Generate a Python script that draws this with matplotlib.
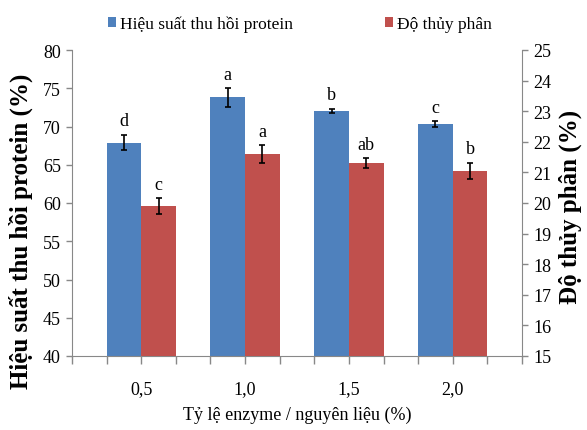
import matplotlib
matplotlib.use("Agg")
import matplotlib.pyplot as plt
import numpy as np
from matplotlib.patches import Patch
from matplotlib.ticker import FixedLocator

plt.rcParams['font.family'] = ['Liberation Serif', 'DejaVu Serif']

# Enzyme-to-substrate ratio (%)
ratios = ['0,5', '1,0', '1,5', '2,0']

# Protein recovery yield (%) — left axis
recovery = [67.9, 73.8, 72.0, 70.3]
recovery_err = [1.0, 1.2, 0.3, 0.4]
recovery_letters = ['d', 'a', 'b', 'c']

# Degree of hydrolysis (%) — right axis
hydrolysis = [19.9, 21.6, 21.3, 21.05]
hydrolysis_err = [0.25, 0.28, 0.16, 0.26]
hydrolysis_letters = ['c', 'a', 'ab', 'b']

BLUE = '#4F81BD'
RED = '#C0504D'
SPINE = '#888888'
FS = 13

fig = plt.figure(figsize=(5.87, 4.31), dpi=100)
ax = fig.add_axes([72 / 587, 74 / 431, 450 / 587, 306 / 431])
ax2 = ax.twinx()

x = np.arange(len(ratios))
w = 1 / 3
err_style = dict(elinewidth=1.2, capthick=1.2, ecolor='black')

ax.bar(x - w / 2, recovery, w, color=BLUE, yerr=recovery_err,
       capsize=2.5, error_kw=err_style)
ax2.bar(x + w / 2, hydrolysis, w, color=RED, yerr=hydrolysis_err,
        capsize=2.5, error_kw=err_style)

for xi, v, e, t in zip(x, recovery, recovery_err, recovery_letters):
    ax.annotate(t, (xi - w / 2, v + e), xytext=(0, 4), textcoords='offset points',
                ha='center', va='bottom', fontsize=FS)
for xi, v, e, t in zip(x, hydrolysis, hydrolysis_err, hydrolysis_letters):
    ax2.annotate(t, (xi + w / 2, v + e), xytext=(0, 4), textcoords='offset points',
                 ha='center', va='bottom', fontsize=FS)

ax.set_xlim(-2 / 3, len(ratios) - 1 + 2 / 3)
ax.set_ylim(40, 80)
ax2.set_ylim(15, 25)
ax.set_yticks(np.arange(40, 81, 5))
ax2.set_yticks(np.arange(15, 26, 1))
ax.set_xticks(x)
ax.set_xticklabels(ratios)
ax.xaxis.set_minor_locator(FixedLocator([k / 3 for k in range(-2, 12) if k % 3 != 0]))

ax.tick_params(axis='x', which='both', length=6, width=1, color=SPINE,
               labelsize=FS, pad=11)
ax.tick_params(axis='y', length=4, width=1, color=SPINE, labelsize=FS, pad=4)
ax2.tick_params(axis='y', length=4, width=1, color=SPINE, labelsize=FS, pad=4)

for a in (ax, ax2):
    a.spines['top'].set_visible(False)
    for s in a.spines.values():
        s.set_color(SPINE)
ax.spines['right'].set_visible(False)
ax2.spines['left'].set_visible(False)
ax2.spines['bottom'].set_visible(False)

ax.set_ylabel('Hiệu suất thu hồi protein (%)', fontsize=18, fontweight='bold')
ax.yaxis.set_label_coords(-0.087, 0.41)
ax2.set_ylabel('Độ thủy phân (%)', fontsize=18, fontweight='bold')
ax2.yaxis.set_label_coords(1.082, 0.49)
ax.set_xlabel('Tỷ lệ enzyme / nguyên liệu (%)', fontsize=FS)
ax.xaxis.set_label_coords(0.5, -0.163)

handles = [Patch(facecolor=BLUE, edgecolor='none'), Patch(facecolor=RED, edgecolor='none')]
fig.legend(handles, ['Hiệu suất thu hồi protein', 'Độ thủy phân'],
           loc='center', bbox_to_anchor=(300 / 587, 1 - 25 / 431), ncol=2,
           frameon=False, fontsize=12.5, handlelength=0.45, handleheight=0.45,
           handletextpad=0.25, columnspacing=5.3)

fig.savefig('out.png', dpi=100)
